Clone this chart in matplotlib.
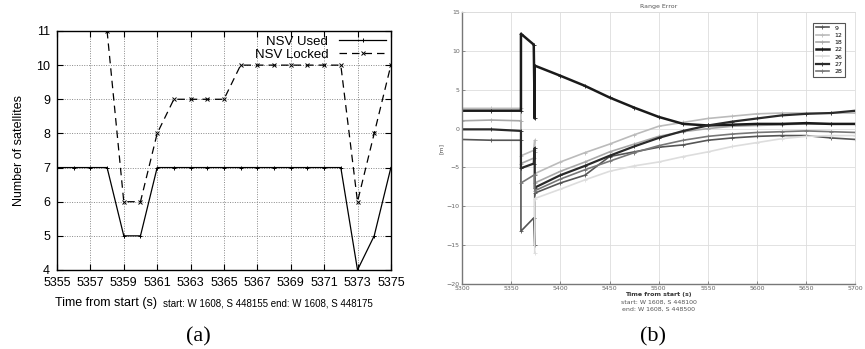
import numpy as np
import matplotlib
matplotlib.use("Agg")
from matplotlib import pyplot as plt

# ---- panel (a): number of satellites ----
t_a = [5355, 5356, 5357, 5358, 5359, 5360, 5361, 5362, 5363, 5364, 5365,
       5366, 5367, 5368, 5369, 5370, 5371, 5372, 5373, 5374, 5375]
nsv_used = [7, 7, 7, 7, 5, 5, 7, 7, 7, 7, 7, 7, 7, 7, 7, 7, 7, 7, 4, 5, 7]
t_locked = [5358, 5359, 5360, 5361, 5362, 5363, 5364, 5365, 5366, 5367,
            5368, 5369, 5370, 5371, 5372, 5373, 5374, 5375]
nsv_locked = [11, 6, 6, 8, 9, 9, 9, 9, 10, 10, 10, 10, 10, 10, 10, 6, 8, 10]

# ---- panel (b): range error per PRN ----
nan = np.nan
t_b = [5300, 5330, 5360, 5360, 5373, 5374, 5374, 5400, 5425, 5450, 5475,
       5500, 5525, 5550, 5575, 5600, 5625, 5650, 5675, 5700]
err_9 = [-1.4, -1.5, -1.5, -13.2, -11.5, -15.0, -8.3, -7.0, -6.0, -3.6, -3.0,
         -2.4, -2.1, -1.5, -1.2, -1.0, -0.9, -0.9, -1.2, -1.4]
err_12 = [2.6, 2.6, 2.6, -3.5, -2.8, -1.5, -5.8, -4.3, -3.1, -2.0, -0.8,
          0.3, 0.8, 1.3, 1.6, 1.9, 2.0, 2.0, 2.0, 2.0]
err_18 = [1.0, 1.1, 1.0, -4.5, -3.8, -3.0, -7.0, -5.5, -4.3, -3.0, -2.0,
          -1.0, -0.4, 0.0, 0.3, 0.4, 0.5, 0.6, 0.6, 0.6]
err_22 = [2.3, 2.3, 2.3, 12.2, 10.8, 1.3, 8.1, 6.8, 5.5, 4.0, 2.7,
          1.5, 0.6, 0.4, 0.5, 0.6, 0.6, 0.7, 0.6, 0.6]
err_26 = [nan, nan, nan, nan, nan, -16.0, -9.0, -7.8, -6.6, -5.5, -4.8,
          -4.3, -3.6, -3.0, -2.3, -1.8, -1.3, -1.0, -0.9, -0.9]
err_27 = [-0.1, -0.1, -0.3, -5.1, -4.5, -2.5, -7.6, -6.0, -4.8, -3.5, -2.3,
          -1.2, -0.3, 0.4, 0.9, 1.3, 1.7, 1.9, 2.0, 2.3]
err_28 = [nan, nan, nan, -7.0, -6.0, -6.0, -8.0, -6.5, -5.3, -4.2, -3.1,
          -2.2, -1.5, -1.0, -0.7, -0.5, -0.4, -0.3, -0.4, -0.5]
prn_labels = ["9", "12", "18", "22", "26", "27", "28"]

fig = plt.figure(figsize=(8.65, 3.49), dpi=100)

# panel (a)
ax1 = fig.add_axes([0.0659, 0.2264, 0.386, 0.6848])
ax1.plot(t_a, nsv_used, color="black", lw=0.9, marker="+", ms=3,
         mew=0.7, label="NSV Used")
ax1.plot(t_locked, nsv_locked, color="black", lw=0.9, ls=(0, (6, 4)),
         marker="x", ms=3, mew=0.7, label="NSV Locked")
ax1.set_xlim(5355, 5375)
ax1.set_ylim(4, 11)
ax1.set_xticks(range(5355, 5376, 2))
ax1.set_yticks(range(4, 12))
ax1.grid(True, color="#888888", ls=(0, (1, 1.5)), lw=0.7)
ax1.tick_params(direction="in", length=4, labelsize=9, pad=5,
                top=True, right=True)
for lab in ax1.get_xticklabels() + ax1.get_yticklabels():
    lab.set_family("Liberation Sans")
for s in ax1.spines.values():
    s.set_linewidth(1.0)
ax1.set_ylabel("Number of satellites", fontsize=9, family="Liberation Sans",
               labelpad=8)
ax1.legend(loc="upper right", frameon=False, markerfirst=False,
           handlelength=3.6, borderaxespad=0.15, borderpad=0.2,
           labelspacing=0.05, prop={"family": "Liberation Sans", "size": 9.5})
ax1.text(-0.006, -0.14, "Time from start (s)", transform=ax1.transAxes,
         fontsize=9, family="Liberation Sans", ha="left", va="center")
ax1.text(0.318, -0.14, "start: W 1608, S 448155 end: W 1608, S 448175",
         transform=ax1.transAxes, fontsize=7, family="Liberation Sans",
         ha="left", va="center")
fig.text(198 / 865, 1 - 337 / 349, "(a)", fontsize=16,
         family="Liberation Serif", ha="center", va="center")

# panel (b)
ax2 = fig.add_axes([0.534, 0.1862, 0.455, 0.7794])
styles = [
    (err_9, "#555555", 1.2),
    (err_12, "#bbbbbb", 1.2),
    (err_18, "#a8a8a8", 1.2),
    (err_22, "#1a1a1a", 1.8),
    (err_26, "#dddddd", 1.2),
    (err_27, "#2a2a2a", 1.6),
    (err_28, "#777777", 1.2),
]
for (vals, col, w), lab in zip(styles, prn_labels):
    ax2.plot(t_b, vals, color=col, lw=w, marker="+", ms=2.5, mew=0.6,
             label=lab)
ax2.set_xlim(5300, 5700)
ax2.set_ylim(-20, 15)
ax2.set_xticks(range(5300, 5701, 50))
ax2.set_yticks(range(-20, 16, 5))
ax2.grid(True, color="#dddddd", lw=0.6)
ax2.tick_params(direction="in", length=2, labelsize=4.5, pad=1.5,
                colors="#666666", width=0.5)
for side in ["left", "bottom"]:
    ax2.spines[side].set_color("#777777")
    ax2.spines[side].set_linewidth(1.0)
for side in ["top", "right"]:
    ax2.spines[side].set_color("#dddddd")
    ax2.spines[side].set_linewidth(0.6)
ax2.set_title("Range Error", fontsize=4.5, color="#555555", pad=3)
ax2.set_ylabel("[m]", fontsize=4.5, color="#555555", labelpad=2)
ax2.text(0.5, -0.04, "Time from start (s)", transform=ax2.transAxes,
         fontsize=4.5, fontweight="bold", color="#333333", ha="center",
         va="center")
ax2.text(0.5, -0.066, "start: W 1608, S 448100", transform=ax2.transAxes,
         fontsize=4.5, color="#555555", ha="center", va="center")
ax2.text(0.5, -0.092, "end: W 1608, S 448500", transform=ax2.transAxes,
         fontsize=4.5, color="#555555", ha="center", va="center")
leg = ax2.legend(loc="upper right", fontsize=4.5, handlelength=2.2,
                 labelspacing=0.3, borderaxespad=1.7, fancybox=False,
                 framealpha=1)
leg.get_frame().set_edgecolor("#555555")
leg.get_frame().set_linewidth(0.8)
fig.text(653 / 865, 1 - 337 / 349, "(b)", fontsize=16,
         family="Liberation Serif", ha="center", va="center")

fig.savefig("out.png", dpi=100)
